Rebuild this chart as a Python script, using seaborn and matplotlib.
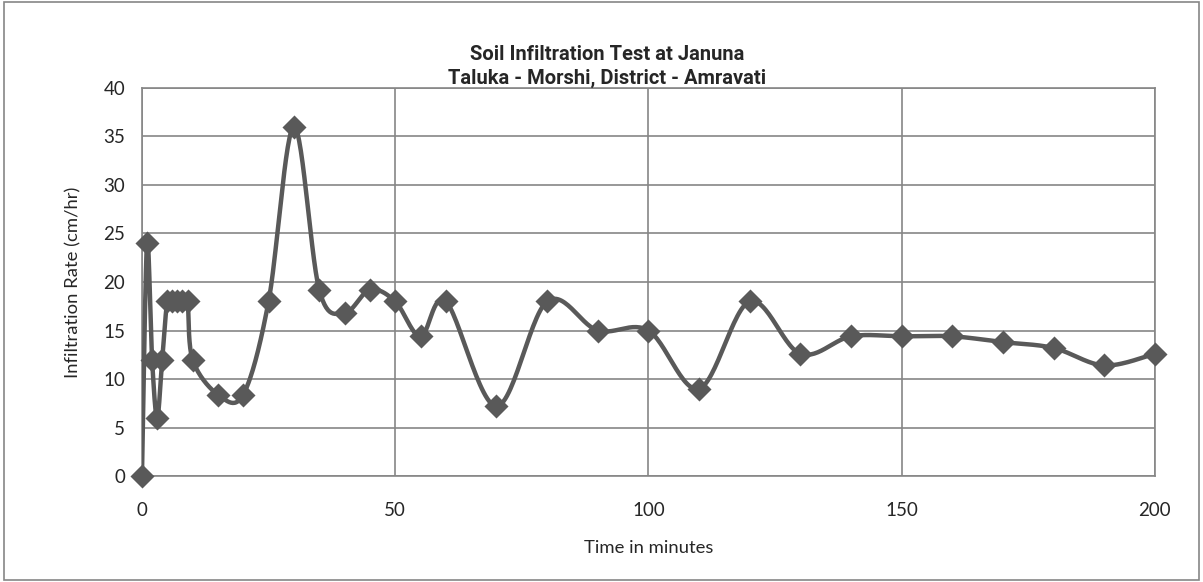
import numpy as np
import pandas as pd
import matplotlib
matplotlib.use('Agg')
import matplotlib.pyplot as plt
import seaborn as sns
from matplotlib.patches import Rectangle

# readings of the infiltration test
time_min = [0, 1, 2, 3, 4, 5, 6, 7, 8, 9, 10, 15, 20, 25, 30, 35, 40, 45, 50,
            55, 60, 70, 80, 90, 100, 110, 120, 130, 140, 150, 160, 170, 180,
            190, 200]
rate_cm_hr = [0, 24, 12, 6, 12, 18, 18, 18, 18, 18, 12, 8.4, 8.4, 18, 36,
              19.2, 16.8, 19.2, 18, 14.4, 18, 7.2, 18, 15, 15, 9, 18, 12.6,
              14.4, 14.4, 14.4, 13.8, 13.2, 11.4, 12.6]

TITLE = "Soil Infiltration Test at Januna\nTaluka - Morshi, District - Amravati"
LINE_COLOR = '#595959'
GRID_COLOR = '#868686'


def smooth(x, y, steps=30):
    # excel style smoothed line (bezier through the points)
    x = np.asarray(x, float)
    y = np.asarray(y, float)
    n = len(x)
    xs, ys = [], []
    t = np.linspace(0, 1, steps)
    for i in range(n - 1):
        i0 = max(i - 1, 0)
        i3 = min(i + 2, n - 1)
        c1x = x[i] + (x[i + 1] - x[i0]) / 6
        c1y = y[i] + (y[i + 1] - y[i0]) / 6
        c2x = x[i + 1] - (x[i3] - x[i]) / 6
        c2y = y[i + 1] - (y[i3] - y[i]) / 6
        bx = ((1 - t) ** 3 * x[i] + 3 * (1 - t) ** 2 * t * c1x
              + 3 * (1 - t) * t ** 2 * c2x + t ** 3 * x[i + 1])
        by = ((1 - t) ** 3 * y[i] + 3 * (1 - t) ** 2 * t * c1y
              + 3 * (1 - t) * t ** 2 * c2y + t ** 3 * y[i + 1])
        xs.extend(bx)
        ys.extend(by)
    return np.array(xs), np.array(ys)


def main():
    sns.set_style('white')
    plt.rcParams['font.family'] = ['Lato', 'DejaVu Sans']

    df = pd.DataFrame({'time': time_min, 'rate': rate_cm_hr})
    sx, sy = smooth(df['time'], df['rate'])

    fig = plt.figure(figsize=(12.03, 5.82), dpi=100)
    ax = fig.add_axes([0.118, 0.182, 0.842, 0.667])

    ax.plot(sx, sy, color=LINE_COLOR, lw=3.2, solid_capstyle='round',
            zorder=3)
    sns.scatterplot(data=df, x='time', y='rate', marker='D', s=150,
                    color=LINE_COLOR, edgecolor=LINE_COLOR, linewidth=0,
                    ax=ax, zorder=4, clip_on=False)

    ax.set_xlim(0, 200)
    ax.set_ylim(0, 40)
    ax.set_xticks(range(0, 201, 50))
    ax.set_yticks(range(0, 41, 5))
    ax.grid(True, color=GRID_COLOR, lw=1.2)
    ax.set_axisbelow(True)
    for s in ax.spines.values():
        s.set_color(GRID_COLOR)
        s.set_linewidth(1.2)
    ax.tick_params(axis='both', length=0, labelsize=13.5)
    ax.tick_params(axis='x', pad=19)
    ax.tick_params(axis='y', pad=12)
    ax.set_xlabel('Time in minutes', fontsize=13.3, labelpad=15)
    ax.set_ylabel('Infiltration Rate (cm/hr)', fontsize=13.3, labelpad=16)
    # title sits over the middle of the whole chart, not the plot area
    ax.set_title(TITLE, fontsize=14.5, fontweight='bold', pad=3,
                 linespacing=1.3, family=['Roboto', 'DejaVu Sans'],
                 x=0.459)

    fig.patches.append(Rectangle((0.003, 0.003), 0.994, 0.994,
                                 transform=fig.transFigure, fill=False,
                                 edgecolor=GRID_COLOR, lw=1.2))
    fig.savefig('out.png', dpi=100)


if __name__ == '__main__':
    main()
